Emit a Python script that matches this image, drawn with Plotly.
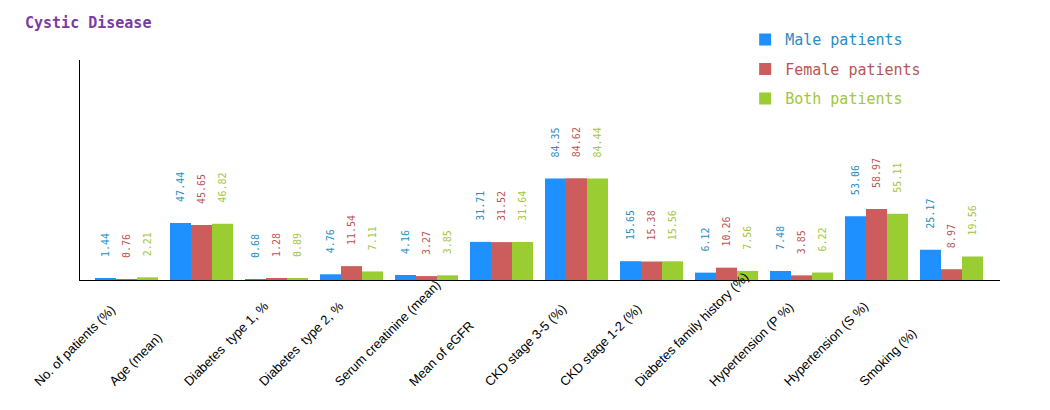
import plotly.graph_objects as go

categories = ['No. of patients (%)', 'Age (mean)', 'Diabetes\u00a0\u00a0type 1, %', 'Diabetes\u00a0\u00a0type 2, %',
              'Serum creatinine (mean)', 'Mean of eGFR', 'CKD stage 3-5 (%)', 'CKD stage 1-2 (%)',
              'Diabetes family history (%)', 'Hypertension (P %)', 'Hypertension (S %)', 'Smoking (%)']
male = [1.44, 47.44, 0.68, 4.76, 4.16, 31.71, 84.35, 15.65, 6.12, 7.48, 53.06, 25.17]
female = [0.76, 45.65, 1.28, 11.54, 3.27, 31.52, 84.62, 15.38, 10.26, 3.85, 58.97, 8.97]
both = [2.21, 46.82, 0.89, 7.11, 3.85, 31.64, 84.44, 15.56, 7.56, 6.22, 55.11, 19.56]

series = [
    ('Male patients', male, '#1e90ff', '#2a8cc4'),
    ('Female patients', female, '#cd5c5c', '#bb5553'),
    ('Both patients', both, '#9acd32', '#a2c63c'),
]

mono = 'DejaVu Sans Mono'
pad = '\u00a0' * 3

fig = go.Figure()
for name, vals, col, tcol in series:
    fig.add_trace(go.Bar(
        x=categories, y=vals,
        name="<span style='color:%s'>%s</span>" % (tcol, name),
        legendgroup=name,
        marker=dict(color=col, line=dict(width=0)),
        text=[pad + '%.2f' % v for v in vals],
        textposition='outside', textangle=-90, constraintext='none', cliponaxis=False,
        textfont=dict(family=mono, size=10, color=tcol),
        hoverinfo='x+y',
    ))

# category labels drawn as rotated annotations, anchored at their start like the original
for c in categories:
    fig.add_annotation(x=c, xref='x', y=-0.509, yref='paper', text=c, showarrow=False,
                       textangle=-45, xanchor='left', yanchor='bottom', xshift=-98,
                       font=dict(family='Liberation Sans, Arial', size=13, color='black'))

fig.update_layout(
    width=1050, height=410,
    margin=dict(l=72, r=58, t=52, b=138, autoexpand=False),
    paper_bgcolor='white', plot_bgcolor='white',
    barmode='group', bargap=0.16, bargroupgap=0,
    title=dict(text='<b>Cystic Disease</b>', x=0.0162, xanchor='left', y=0.963, yanchor='middle',
               pad=dict(l=0, t=0, b=0, r=0),
               font=dict(family=mono, size=15, color='#7b3aa6')),
    legend=dict(x=0.723, y=0.963, xanchor='left', yanchor='top', yref='container',
                font=dict(family=mono, size=15), tracegroupgap=7,
                bgcolor='rgba(0,0,0,0)'),
    showlegend=True,
    xaxis=dict(range=[-0.62, 11.647], showline=True, linecolor='black', linewidth=1,
               ticks='', showticklabels=False, showgrid=False, automargin=False),
    yaxis=dict(range=[0, 183], showline=True, linecolor='black', linewidth=1, automargin=False,
               showticklabels=False, ticks='', showgrid=False, zeroline=False),
)

fig.write_html('out.html')
